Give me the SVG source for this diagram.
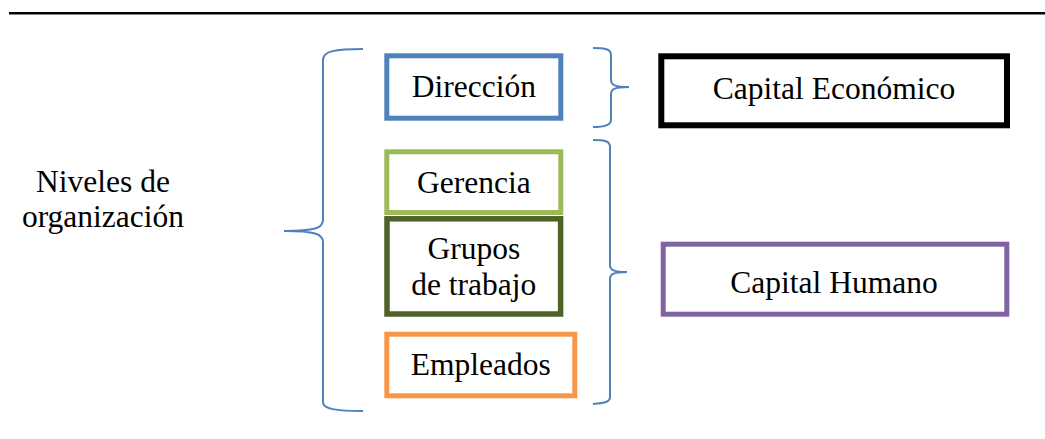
<svg xmlns="http://www.w3.org/2000/svg" width="1045" height="439" viewBox="0 0 1045 439">
<style>
  .t { font-family: "Liberation Serif", "Times New Roman", serif; font-size: 31.5px; fill: #000; text-anchor: middle; }
  .box { fill: #fff; }
  .brace { fill: none; stroke: #4F81BD; stroke-width: 2; }
</style>
<rect x="0" y="0" width="1045" height="439" fill="#fff"/>
<line x1="9" y1="13.3" x2="1045" y2="13.3" stroke="#000" stroke-width="2.6"/>
<g id="niveles">
  <text class="t" x="103" y="191.5">Niveles de</text>
  <text class="t" x="103" y="226.5">organización</text>
</g>
<g id="connectors">
  <path class="brace" d="M363,49 C335,49 323,51 323,60 L323,220 C323,228 315,231 284,231 C315,231 323,234 323,242 L323,402 C323,409 335,411 363,411"/>
  <path class="brace" d="M593,48 C605,48 611,49 611,55 L611,80 C611,85 615,87 629,87 C615,87 611,89 611,94 L611,120 C611,125 605,127 593,127"/>
  <path class="brace" d="M593,140 C605,140 610,141 610,147 L610,265 C610,270 614,272 627,272 C614,272 610,274 610,279 L610,397 C610,402 605,403 593,404"/>
</g>
<g id="direccion">
  <rect class="box" x="386.8" y="55.8" width="174" height="62.4" stroke="#4F81BD" stroke-width="5"/>
  <text class="t" x="473.8" y="97.3">Dirección</text>
</g>
<g id="gerencia">
  <rect class="box" x="386.8" y="151.8" width="174" height="60.7" stroke="#9BBB59" stroke-width="5"/>
  <text class="t" x="473.8" y="193.3">Gerencia</text>
</g>
<g id="grupos">
  <rect class="box" x="387" y="218.8" width="173.6" height="95.2" stroke="#4F6228" stroke-width="5.5"/>
  <text class="t" x="473.8" y="259.3">Grupos</text>
  <text class="t" x="473.8" y="295">de trabajo</text>
</g>
<g id="empleados">
  <rect class="box" x="386.8" y="334.2" width="188" height="61.6" stroke="#F79646" stroke-width="5"/>
  <text class="t" x="480.8" y="375">Empleados</text>
</g>
<g id="capital-economico">
  <rect class="box" x="661.3" y="56.3" width="345.7" height="69" stroke="#000" stroke-width="6"/>
  <text class="t" x="834" y="99.3">Capital Económico</text>
</g>
<g id="capital-humano">
  <rect class="box" x="663.2" y="244.2" width="343.6" height="70" stroke="#8064A2" stroke-width="5"/>
  <text class="t" x="834" y="293.3">Capital Humano</text>
</g>
</svg>
